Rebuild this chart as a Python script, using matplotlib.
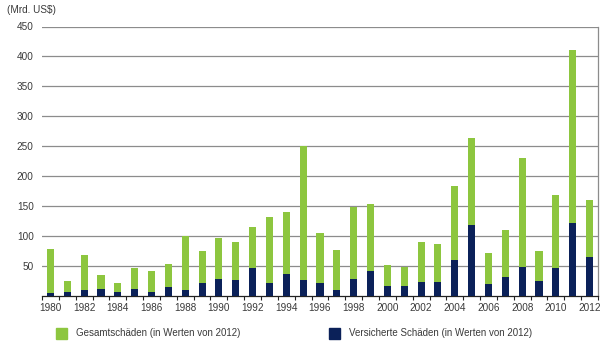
import matplotlib
matplotlib.use("Agg")
import matplotlib.pyplot as plt
from matplotlib.patches import Rectangle
import numpy as np

years = list(range(1980, 2013))
total = [78, 25, 69, 35, 21, 47, 41, 53, 101, 75, 97, 91, 115, 132, 140, 251, 106, 77, 149, 153,
         52, 49, 91, 86, 184, 264, 71, 110, 231, 75, 169, 410, 161]
insured = [4.5, 6.5, 10.5, 11, 7, 11, 6.5, 15, 9.5, 21, 28.5, 27, 46, 21, 37, 27, 21, 9.5, 28.5, 42,
           16, 17, 24, 24, 60, 119, 20.5, 31, 48.5, 25, 47.5, 122.5, 65.5]
yticks = [50, 100, 150, 200, 250, 300, 350, 400, 450]
unit_label = "(Mrd. US$)"
legend_labels = ["Gesamtschäden (in Werten von 2012)", "Versicherte Schäden (in Werten von 2012)"]

green = "#8DC63F"
navy = "#0B2159"
txt = "#3a3a3a"
plt.rcParams['font.family'] = ['Liberation Sans', 'DejaVu Sans']

fig = plt.figure(figsize=(6.0, 3.43), dpi=100)
ax = fig.add_axes([42/600, 1-296/343, 556/600, (296-26.5)/343])
x = np.arange(len(years))
ax.bar(x, total, width=0.42, color=green, zorder=3)
ax.bar(x, insured, width=0.42, color=navy, zorder=4)
ax.set_xlim(-0.5, len(years)-0.5)
ax.set_ylim(0, 450)
ax.set_yticks(yticks)
ax.set_yticklabels([str(v) for v in yticks], fontsize=7.2, color=txt)
ax.tick_params(axis='y', length=0, pad=6)
ax.yaxis.grid(True, color="#8c8c8c", linewidth=0.9, zorder=0)
ax.set_axisbelow(True)
# x ticks at category boundaries, labels on even years
ax.set_xticks(np.arange(-0.5, len(years), 1.0))
ax.set_xticklabels([])
ax.tick_params(axis='x', length=3, width=0.8, color="#222222", direction='out')
ax.set_xticks(x[::2], minor=True)
ax.set_xticklabels([str(y) for y in years[::2]], minor=True, fontsize=7.2, color=txt)
ax.tick_params(axis='x', which='minor', length=0, pad=5)
for s in ['top', 'left']:
    ax.spines[s].set_visible(False)
ax.spines['right'].set_color("#8c8c8c")
ax.spines['right'].set_linewidth(0.9)
ax.spines['bottom'].set_color("#222222")
ax.spines['bottom'].set_linewidth(0.9)

fig.text(7/600, 1-10/343, unit_label, fontsize=7.2, color=txt, va='center', ha='left')

# legend
for (x0, col, lab) in [(56, green, legend_labels[0]), (329, navy, legend_labels[1])]:
    fig.patches.append(Rectangle((x0/600, 1-339/343), 10.5/600, 11/343, transform=fig.transFigure,
                                 color=col, figure=fig))
    fig.text((x0+20)/600, 1-333.5/343, lab, fontsize=7, color=txt, va='center', ha='left')

fig.savefig("out.png", dpi=100)
